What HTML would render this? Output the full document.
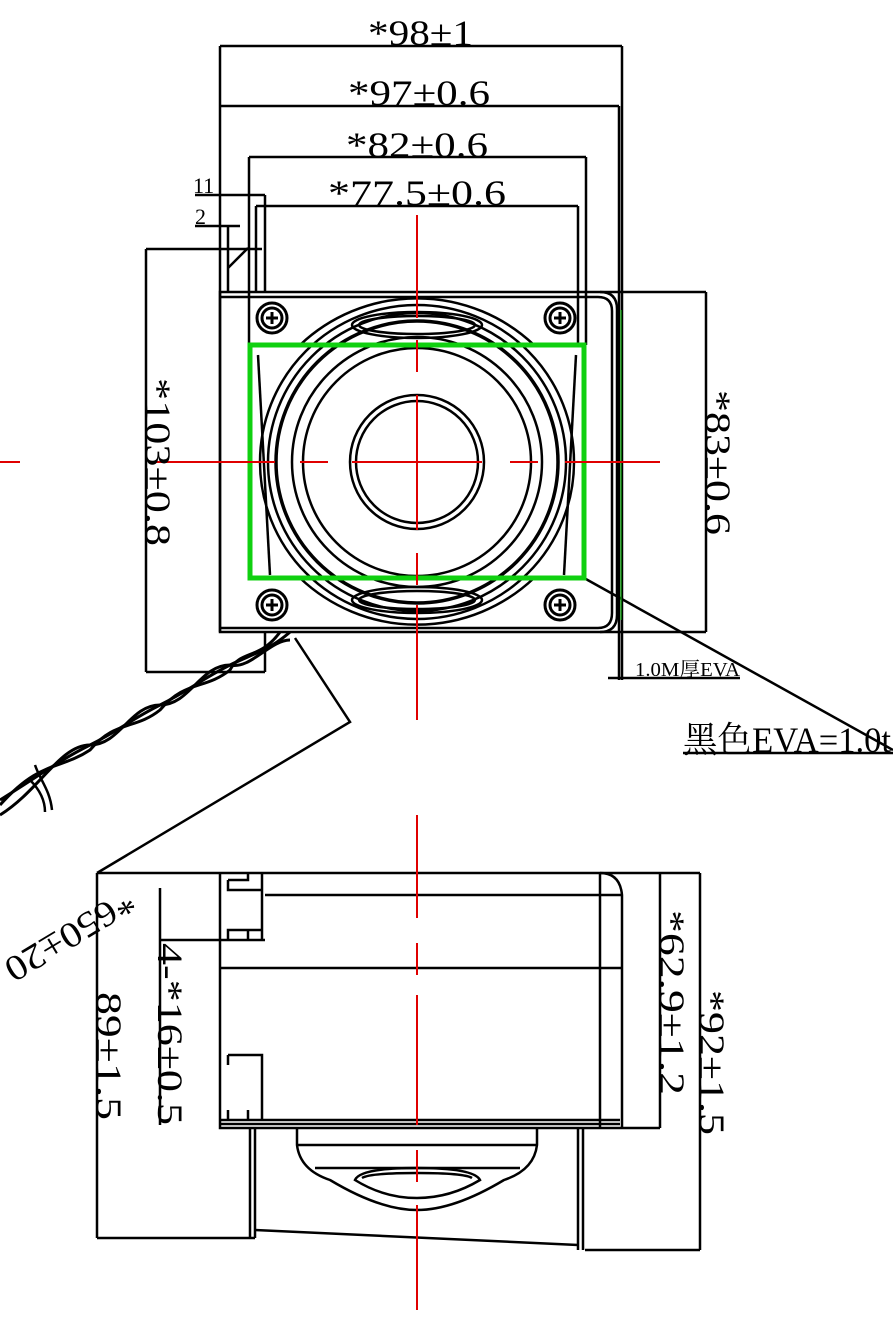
<!DOCTYPE html>
<html><head><meta charset="utf-8"><style>
html,body{margin:0;padding:0;background:#fff}
svg{display:block}
text{font-family:"Liberation Serif","Noto Serif CJK SC",serif;fill:#000}
</style></head><body>
<svg width="893" height="1331" viewBox="0 0 893 1331" xmlns="http://www.w3.org/2000/svg">
<g fill="none" stroke="#000" stroke-width="2.5">
<line x1="220" y1="46" x2="622" y2="46"/>
<line x1="220" y1="46" x2="220" y2="632"/>
<line x1="622" y1="46" x2="622" y2="680"/>
<line x1="619" y1="106" x2="619" y2="680"/>
<line x1="220" y1="106" x2="619" y2="106"/>
<line x1="249" y1="157" x2="586" y2="157"/>
<line x1="249" y1="157" x2="249" y2="345"/>
<line x1="586" y1="157" x2="586" y2="345"/>
<line x1="256" y1="206" x2="578" y2="206"/>
<line x1="256" y1="206" x2="256" y2="292"/>
<line x1="578" y1="206" x2="578" y2="345"/>
<line x1="195" y1="195" x2="265" y2="195"/>
<line x1="265" y1="195" x2="265" y2="292"/>
<line x1="195" y1="226" x2="240" y2="226"/>
<line x1="228" y1="226" x2="228" y2="292"/>
<line x1="228" y1="268" x2="248" y2="248"/>
<line x1="146" y1="249" x2="262" y2="249"/>
<line x1="146" y1="249" x2="146" y2="672"/>
<line x1="146" y1="672" x2="265" y2="672"/>
<line x1="265" y1="632" x2="265" y2="672"/>
<path d="M220 292 H600 Q617 292 617 309 V615 Q617 632 600 632 H220 Z"/>
<path d="M220 297 H598 Q612 297 612 311 V613 Q612 628 598 628 H220"/>
<line x1="600" y1="292" x2="706" y2="292"/>
<line x1="600" y1="632" x2="706" y2="632"/>
<line x1="706" y1="292" x2="706" y2="632"/>
<line x1="608" y1="678" x2="740" y2="678"/>
<line x1="584" y1="578" x2="893" y2="750"/>
<line x1="683" y1="753" x2="893" y2="753"/>
<circle cx="417" cy="462" r="67"/>
<circle cx="417" cy="462" r="61"/>
<circle cx="417" cy="462" r="114"/>
<circle cx="417" cy="462" r="125"/>
<circle cx="417" cy="462" r="141" stroke-width="3.5"/>
<circle cx="417" cy="462" r="149"/>
<circle cx="417" cy="462" r="157"/>
<path d="M300 345 A170 170 0 0 1 534 345"/>
<path d="M300 578 A170 170 0 0 0 534 578"/>
<ellipse cx="417" cy="325" rx="65" ry="13"/>
<ellipse cx="417" cy="325" rx="58" ry="9"/>
<ellipse cx="417" cy="600" rx="65" ry="13"/>
<ellipse cx="417" cy="600" rx="58" ry="9"/>
<line x1="258" y1="355" x2="270" y2="575"/>
<line x1="576" y1="355" x2="564" y2="575"/>
<g stroke-width="3">
<circle cx="272" cy="318" r="15"/><circle cx="272" cy="318" r="10"/>
<circle cx="560" cy="318" r="15"/><circle cx="560" cy="318" r="10"/>
<circle cx="272" cy="605" r="15"/><circle cx="272" cy="605" r="10"/>
<circle cx="560" cy="605" r="15"/><circle cx="560" cy="605" r="10"/>
<path d="M266 318h12M272 312v12M554 318h12M560 312v12M266 605h12M272 599v12M554 605h12M560 599v12"/>
</g>
<path d="M290 632 C270 650 250 655 230 665 C200 680 190 690 160 705 C130 720 120 730 90 745 C60 760 40 775 0 800" stroke-width="3"/>
<path d="M290 640 C270 640 250 670 230 665 C200 665 190 705 160 705 C130 705 120 745 90 745 C60 745 40 790 0 815" stroke-width="3"/>
<path d="M280 632 C260 660 240 650 230 670 C205 690 185 680 160 710 C135 730 115 720 90 750 C60 770 40 760 0 805" stroke-width="3"/>
<path d="M35 765 C40 780 50 790 52 810 M30 780 C40 790 45 800 45 812"/>
<polyline points="295,638 350,722 97,873"/>
<line x1="97" y1="873" x2="700" y2="873"/>
<line x1="97" y1="873" x2="97" y2="1238"/>
<line x1="97" y1="1238" x2="255" y2="1238"/>
<line x1="160" y1="888" x2="160" y2="1125"/>
<line x1="160" y1="940" x2="265" y2="940"/>
<path d="M220 873 V1128 H620"/>
<line x1="220" y1="1120" x2="620" y2="1120"/>
<line x1="220" y1="1124" x2="620" y2="1124"/>
<line x1="265" y1="895" x2="622" y2="895"/>
<line x1="220" y1="968" x2="622" y2="968"/>
<path d="M600 873 Q620 873 622 895 V1128"/>
<line x1="600" y1="873" x2="600" y2="1128"/>
<path d="M228 880 H248 V873 M228 880 V890 H262 V930 H228 V940 M248 930 V940 M262 873 V940 M228 1055 H262 V1120 M228 1055 V1065 M228 1110 V1120 M248 1110 V1120"/>
<line x1="660" y1="873" x2="660" y2="1128"/>
<line x1="620" y1="1128" x2="660" y2="1128"/>
<line x1="700" y1="873" x2="700" y2="1250"/>
<line x1="585" y1="1250" x2="700" y2="1250"/>
<line x1="250" y1="1128" x2="250" y2="1238"/>
<line x1="255" y1="1128" x2="255" y2="1238"/>
<line x1="583" y1="1128" x2="583" y2="1250"/>
<line x1="578" y1="1128" x2="578" y2="1250"/>
<line x1="255" y1="1230" x2="578" y2="1245"/>
<path d="M297 1128 V1145 Q300 1170 330 1180 Q380 1210 417 1210 Q454 1210 504 1180 Q534 1170 537 1145 V1128"/>
<line x1="297" y1="1145" x2="537" y2="1145"/>
<line x1="315" y1="1168" x2="520" y2="1168"/>
<path d="M355 1180 Q360 1168 417 1168 Q474 1168 480 1180 Q450 1198 417 1198 Q384 1198 355 1180 Z"/>
<path d="M362 1178 Q370 1173 417 1173 Q464 1173 472 1178"/>
</g>
<rect x="250" y="345" width="334" height="233" fill="none" stroke="#10d010" stroke-width="5"/>
<line x1="621" y1="310" x2="621" y2="620" stroke="#10d010" stroke-width="1"/>
<g stroke="#e00000" stroke-width="2" fill="none">
<line x1="0" y1="462" x2="20" y2="462"/>
<line x1="155" y1="462" x2="275" y2="462" />
<line x1="300" y1="462" x2="328" y2="462"/>
<line x1="352" y1="462" x2="482" y2="462"/>
<line x1="510" y1="462" x2="538" y2="462"/>
<line x1="565" y1="462" x2="660" y2="462"/>
<line x1="417" y1="215" x2="417" y2="318"/>
<line x1="417" y1="340" x2="417" y2="372"/>
<line x1="417" y1="395" x2="417" y2="530"/>
<line x1="417" y1="553" x2="417" y2="585"/>
<line x1="417" y1="605" x2="417" y2="720"/>
<line x1="417" y1="815" x2="417" y2="918"/>
<line x1="417" y1="943" x2="417" y2="975"/>
<line x1="417" y1="995" x2="417" y2="1125"/>
<line x1="417" y1="1150" x2="417" y2="1182"/>
<line x1="417" y1="1205" x2="417" y2="1310"/>
</g>
<g font-size="36">
<text x="368" y="45" textLength="105" lengthAdjust="spacingAndGlyphs">*98±1</text>
<text x="348" y="105" textLength="142" lengthAdjust="spacingAndGlyphs">*97±0.6</text>
<text x="346" y="157" textLength="142" lengthAdjust="spacingAndGlyphs">*82±0.6</text>
<text x="328" y="205" textLength="178" lengthAdjust="spacingAndGlyphs">*77.5±0.6</text>
<text transform="translate(146,378) rotate(90)" textLength="168" lengthAdjust="spacingAndGlyphs">*103±0.8</text>
<text transform="translate(706,390) rotate(90)" textLength="145" lengthAdjust="spacingAndGlyphs">*83±0.6</text>
<text transform="translate(158,943) rotate(90)" textLength="182" lengthAdjust="spacingAndGlyphs">4-*16±0.5</text>
<text transform="translate(97,992) rotate(90)" textLength="128" lengthAdjust="spacingAndGlyphs">89±1.5</text>
<text transform="translate(660,910) rotate(90)" textLength="185" lengthAdjust="spacingAndGlyphs">*62.9±1.2</text>
<text transform="translate(700,990) rotate(90)" textLength="145" lengthAdjust="spacingAndGlyphs">*92±1.5</text>
<text transform="translate(126,888) rotate(149)" textLength="145" lengthAdjust="spacingAndGlyphs">*650±20</text>
<text x="683" y="752" textLength="208" lengthAdjust="spacingAndGlyphs">黑色EVA=1.0t</text>
</g>
<text x="635" y="676" font-size="20" textLength="105" lengthAdjust="spacingAndGlyphs">1.0M厚EVA</text>
<text x="193" y="193" font-size="22">11</text>
<text x="195" y="224" font-size="22">2</text>
</svg>
</body></html>
